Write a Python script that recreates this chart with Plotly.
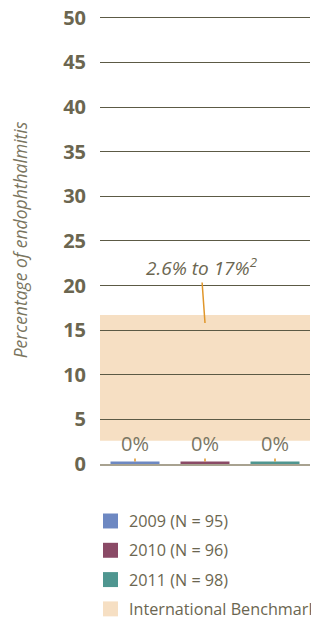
import plotly.graph_objects as go

categories = ["2009", "2010", "2011"]
series_names = ["2009 (N = 95)", "2010 (N = 96)", "2011 (N = 98)"]
values = [0, 0, 0]
value_labels = ["0%", "0%", "0%"]
colors = ["#6d88c2", "#8a4a66", "#4f9690"]
benchmark_low = 2.6
benchmark_high = 16.7
benchmark_label = "<i>2.6% to 17%<sup>2</sup></i>"
benchmark_name = "International Benchmark"
benchmark_color = "#f6dfc3"
y_ticks = [0, 5, 10, 15, 20, 25, 30, 35, 40, 45, 50]

MIN_VISIBLE = 0.28  # drawn height for zero-valued bars
TXT = "#6b6650"
ORANGE = "#e0962a"

fig = go.Figure()

# data bars
for cat, name, v, c in zip(categories, series_names, values, colors):
    fig.add_trace(go.Bar(
        x=[cat], y=[max(v, MIN_VISIBLE)], name=name,
        marker=dict(color=c, line=dict(width=0)),
        width=0.7, showlegend=False, hoverinfo="skip",
    ))

fig.add_shape(type="rect", xref="paper", yref="y", x0=0, x1=1,
              y0=benchmark_low, y1=benchmark_high,
              fillcolor=benchmark_color, line=dict(width=0), layer="below")

annotations = []
for i, (lab, v) in enumerate(zip(value_labels, values)):
    annotations.append(dict(x=i, y=max(v, MIN_VISIBLE), xref="x", yref="y",
                            text=lab, showarrow=True, arrowhead=0, arrowwidth=1.5,
                            arrowcolor=ORANGE, ax=0, ay=-18,
                            font=dict(family="Open Sans", size=20, color="#7a7664")))
annotations.append(dict(x=1, y=15.8, xref="x", yref="y", text=benchmark_label,
                        showarrow=True, arrowhead=0, arrowwidth=1.5,
                        arrowcolor=ORANGE, ax=-4, ay=-56,
                        font=dict(family="Open Sans", size=19, color="#6b6650")))

# manual legend (swatches + labels)
legend_items = list(zip(series_names, colors)) + [(benchmark_name, benchmark_color)]
row0, row_step = -0.1272, 0.0654
half_h = 0.0167
for k, (name, c) in enumerate(legend_items):
    yc = row0 - k * row_step
    fig.add_shape(type="rect", xref="paper", yref="paper",
                  x0=0.0143, x1=0.0857, y0=yc - half_h, y1=yc + half_h,
                  fillcolor=c, line=dict(width=0))
    annotations.append(dict(x=0.1286, y=yc, xref="paper", yref="paper",
                            text=name, showarrow=False, xanchor="left",
                            yanchor="middle",
                            font=dict(family="Open Sans", size=16.2, color=TXT)))

fig.update_layout(
    width=319, height=610,
    margin=dict(l=92, r=17, t=8, b=154, autoexpand=False),
    paper_bgcolor="white", plot_bgcolor="rgba(0,0,0,0)",
    barmode="overlay",
    showlegend=False,
    annotations=annotations,
    xaxis=dict(showticklabels=False, showgrid=False, zeroline=False,
               showline=True, linecolor="#a8a290", linewidth=2,
               range=[-0.5, 2.5], fixedrange=True, automargin=False),
    yaxis=dict(range=[0, 50.2], tickvals=y_ticks, showgrid=True,
               gridcolor="#5c5a45", gridwidth=1.2, zeroline=False,
               showline=False, ticks="", ticklabelstandoff=13,
               automargin=False,
               ticklabeloverflow="allow",
               tickfont=dict(family="Open Sans", size=20, color=TXT, weight="bold"),
               title=dict(text="<i>Percentage of endophthalmitis</i>",
                          font=dict(family="Open Sans", size=17.5, color="#7a7560"),
                          standoff=32)),
)

fig.write_html("out.html")
